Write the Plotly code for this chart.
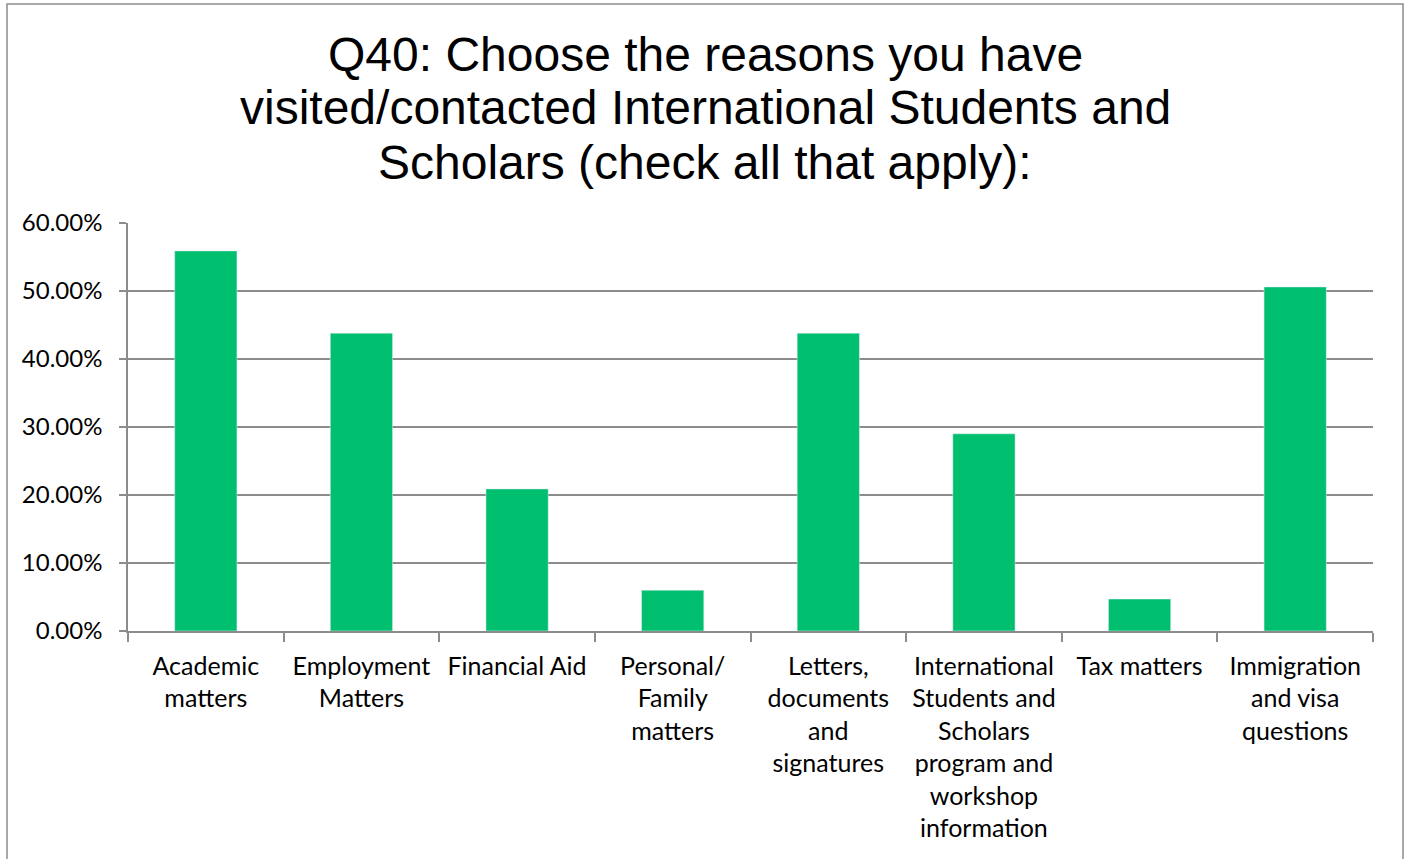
import plotly.graph_objects as go

categories = [
    "Academic<br>matters",
    "Employment<br>Matters",
    "Financial Aid",
    "Personal/<br>Family<br>matters",
    "Letters,<br>documents<br>and<br>signatures",
    "International<br>Students and<br>Scholars<br>program and<br>workshop<br>information",
    "Tax matters",
    "Immigration<br>and visa<br>questions",
]
values = [0.559, 0.438, 0.209, 0.060, 0.438, 0.290, 0.047, 0.506]
y_ticks = [0, 0.1, 0.2, 0.3, 0.4, 0.5, 0.6]

title_lines = [
    "Q40: Choose the reasons you have",
    "visited/contacted International Students and",
    "Scholars (check all that apply):",
]

W, H = 1408, 859
L, R, T, B = 128, 1373, 223, 631
pw, ph = R - L, B - T

fig = go.Figure(go.Bar(x=categories, y=values, marker_color="#00BF6F", width=0.4))

fig.update_layout(
    width=W, height=H,
    margin=dict(l=L, r=W - R, t=T, b=H - B),
    paper_bgcolor="white", plot_bgcolor="white",
    showlegend=False,
    font=dict(family="Lato, Calibri", size=22, color="black"),
)

# title lines as centered annotations
title_centers = [55, 108, 162]
for line, yc in zip(title_lines, title_centers):
    fig.add_annotation(text=line, xref="paper", yref="paper",
                       x=(705 - L) / pw, y=(B - yc) / ph,
                       xanchor="center", yanchor="middle", showarrow=False,
                       font=dict(family="Liberation Sans, Arial", size=48, color="black"))

fig.update_yaxes(
    range=[0, 0.6], tickvals=y_ticks, tickformat=".2%",
    showgrid=True, gridcolor="#8c8c8c", gridwidth=1.5,
    showline=True, linecolor="#8c8c8c", linewidth=1.5,
    ticks="outside", ticklen=7, tickcolor="#8c8c8c", tickwidth=1.5,
    zeroline=False, ticklabelstandoff=12,
    tickfont=dict(family="Lato, Calibri", size=24, color="black"),
)
fig.update_xaxes(
    showline=True, linecolor="#8c8c8c", linewidth=1.5,
    ticks="outside", tickson="boundaries", ticklen=9, tickcolor="#8c8c8c", tickwidth=1.5,
    tickangle=0, ticklabelstandoff=12,
    tickfont=dict(family="Lato, Calibri", size=25, color="black"),
)

# outer chart border
fig.add_shape(type="rect", xref="paper", yref="paper",
              x0=(7 - L) / pw, x1=(1403 - L) / pw,
              y0=(B - 880) / ph, y1=(B - 4) / ph,
              line=dict(color="#8c8c8c", width=1.5), fillcolor="rgba(0,0,0,0)", layer="below")

fig.write_html("out.html", config={"displayModeBar": False},
               post_script="document.body.style.margin='0';")
